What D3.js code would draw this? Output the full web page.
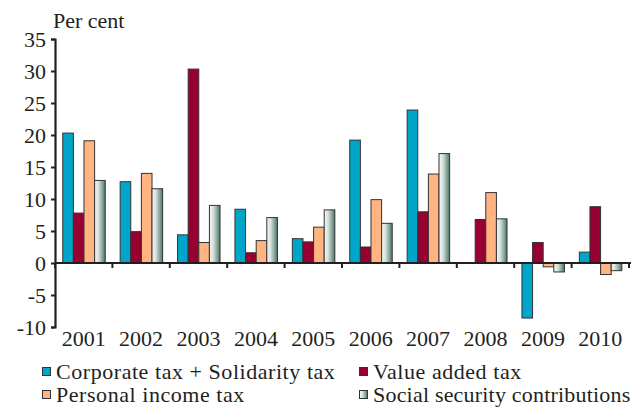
<!DOCTYPE html>
<html>
<head>
<meta charset="utf-8">
<script src="https://cdn.jsdelivr.net/npm/d3@7"></script>
<style>
  html, body { margin: 0; padding: 0; background: #fff; }
  svg { display: block; }
  svg text { font-family: 'Liberation Serif', 'DejaVu Serif', serif !important; fill: #231f20; }
</style>
</head>
<body>
<svg id="chart" width="633" height="407"></svg>
<script>
// Annual change in tax revenue, per cent
const years = ["2001", "2002", "2003", "2004", "2005", "2006", "2007", "2008", "2009", "2010"];
const seriesNames = [
  "Corporate tax + Solidarity tax",
  "Value added tax",
  "Personal income tax",
  "Social security contributions"
];
const corporateTax = [20.3, 12.7, 4.4, 8.4, 3.8, 19.2, 23.9, 0.0, -8.6, 1.7];
const valueAddedTax = [7.8, 4.9, 30.3, 1.6, 3.3, 2.5, 8.0, 6.8, 3.2, 8.8];
const personalIncomeTax = [19.1, 14.0, 3.2, 3.5, 5.6, 9.9, 13.9, 11.0, -0.6, -1.8];
const socialSecurity = [12.9, 11.6, 9.0, 7.1, 8.3, 6.2, 17.1, 6.9, -1.4, -1.2];
const yTicks = [-10, -5, 0, 5, 10, 15, 20, 25, 30, 35];

const seriesValues = [corporateTax, valueAddedTax, personalIncomeTax, socialSecurity];
const fills = ["#00a6c9", "#970030", "#ffb482", "url(#ssGrad)"];
const serif = "'Liberation Serif', 'DejaVu Serif', serif";

const svg = d3.select("#chart").attr("font-family", serif);

const defs = svg.append("defs");
const grad = defs.append("linearGradient").attr("id", "ssGrad")
  .attr("x1", "0%").attr("x2", "100%").attr("y1", "0%").attr("y2", "0%");
grad.append("stop").attr("offset", "0%").attr("stop-color", "#f4f6f5");
grad.append("stop").attr("offset", "35%").attr("stop-color", "#d9e2de");
grad.append("stop").attr("offset", "100%").attr("stop-color", "#4a7868");

const plotLeft = 55, plotRight = 629, plotTop = 39, plotBottom = 327;

const x0 = d3.scaleBand().domain(years).range([plotLeft, plotRight]).padding(0);
const bw = x0.bandwidth();
const x1 = d3.scaleBand().domain(d3.range(4)).range([bw * 0.135, bw * 0.875]).padding(0);
const y = d3.scaleLinear().domain([-10, 35]).range([plotBottom, plotTop]);

// Bars
const groups = svg.append("g").selectAll("g")
  .data(years)
  .join("g")
  .attr("transform", d => `translate(${x0(d)},0)`);

groups.selectAll("rect")
  .data((d, i) => seriesValues.map((s, k) => ({ k, v: s[i] })))
  .join("rect")
  .attr("x", d => x1(d.k))
  .attr("width", x1.bandwidth())
  .attr("y", d => y(Math.max(0, d.v)))
  .attr("height", d => Math.abs(y(d.v) - y(0)))
  .attr("fill", d => fills[d.k])
  .attr("stroke", "#333")
  .attr("stroke-width", 1);

// Y axis
const yAxis = svg.append("g")
  .attr("transform", `translate(${plotLeft},0)`)
  .call(d3.axisLeft(y).tickValues(yTicks).tickFormat(d => String(d)).tickSize(4).tickPadding(5));
yAxis.attr("font-family", serif).attr("font-size", 22);
yAxis.select(".domain").attr("stroke", "#231f20").attr("stroke-width", 2.2);
yAxis.selectAll(".tick line").attr("stroke", "#231f20").attr("stroke-width", 2);
yAxis.selectAll(".tick text").attr("fill", "#231f20");

// X axis on zero line, ticks at category boundaries
const zeroY = y(0);
svg.append("line")
  .attr("x1", plotLeft).attr("x2", plotRight + 2)
  .attr("y1", zeroY).attr("y2", zeroY)
  .attr("stroke", "#231f20").attr("stroke-width", 2.2);
svg.append("g").selectAll("line")
  .data(years.map(d => x0(d) + bw).concat([plotLeft]))
  .join("line")
  .attr("x1", d => d).attr("x2", d => d)
  .attr("y1", zeroY).attr("y2", zeroY + 5)
  .attr("stroke", "#231f20").attr("stroke-width", 2);

// Year labels below the plot
svg.append("g").selectAll("text")
  .data(years)
  .join("text")
  .attr("x", d => x0(d) + bw / 2)
  .attr("y", 346)
  .attr("text-anchor", "middle")
  .attr("font-size", 22)
  .text(d => d);

// Unit label
svg.append("text")
  .attr("x", 53).attr("y", 28)
  .attr("font-size", 22)
  .text("Per cent");

// Legend
const legendPos = [
  { x: 42, y: 379 },
  { x: 359, y: 379 },
  { x: 42, y: 402 },
  { x: 359, y: 402 }
];
const legend = svg.append("g").selectAll("g")
  .data(seriesNames)
  .join("g")
  .attr("transform", (d, i) => `translate(${legendPos[i].x},${legendPos[i].y})`);
legend.append("rect")
  .attr("x", 0.5).attr("y", -11.5)
  .attr("width", 8).attr("height", 8)
  .attr("fill", (d, i) => fills[i])
  .attr("stroke", "#333").attr("stroke-width", 1);
legend.append("text")
  .attr("x", 14).attr("y", 0)
  .attr("font-size", 22)
  .attr("letter-spacing", (d, i) => i === 3 ? 0.2 : 0.55)
  .text(d => d);
</script>
</body>
</html>
